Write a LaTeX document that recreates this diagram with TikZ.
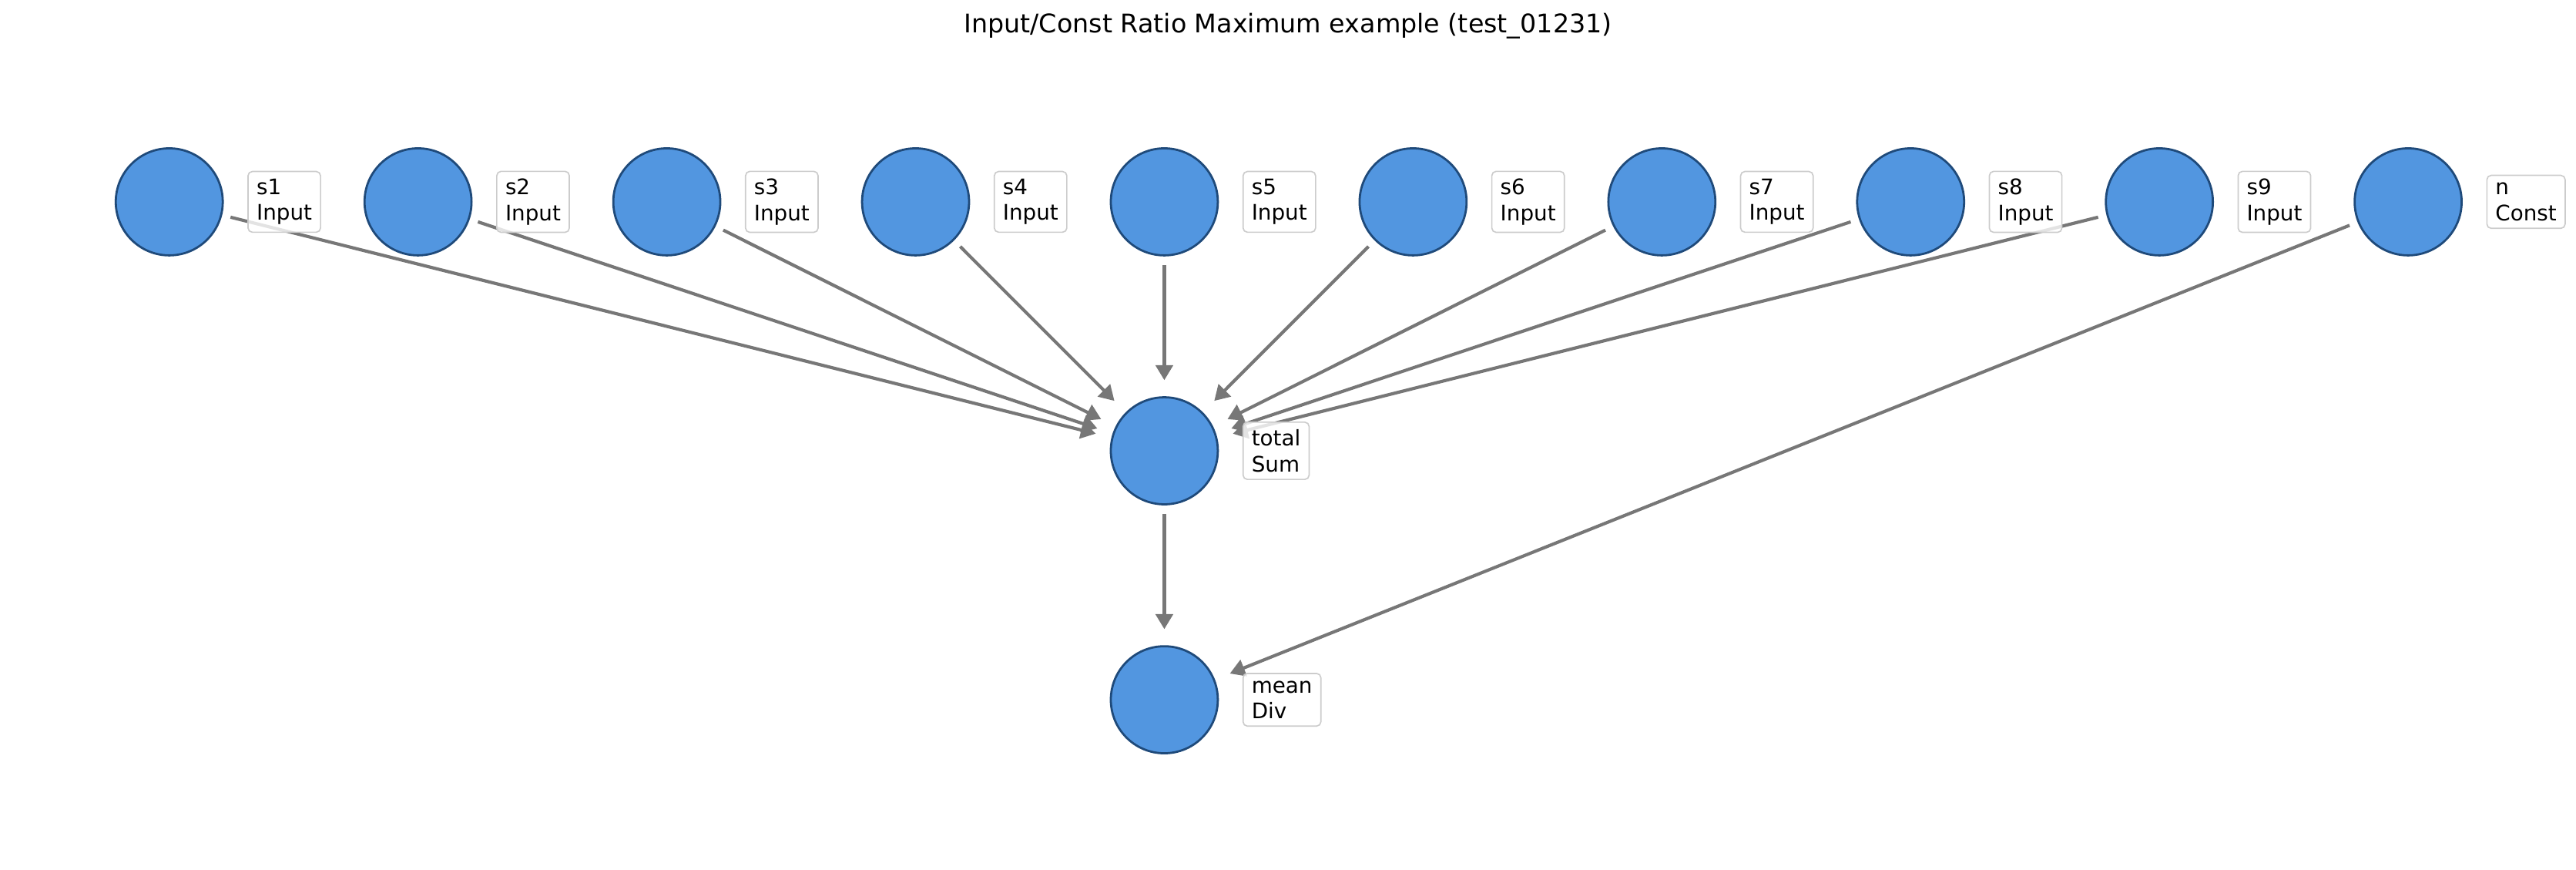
\documentclass[tikz,border=0pt]{standalone}
\usepackage{fontspec}
\setmainfont{DejaVu Sans}
\usetikzlibrary{arrows.meta, positioning}
\definecolor{nodeblue}{HTML}{5296E0}
\definecolor{nodeedge}{HTML}{1F4A7A}
\definecolor{edgegray}{HTML}{777777}
\definecolor{lblgray}{HTML}{CCCCCC}

\begin{document}
\begin{tikzpicture}[
    node distance=65.3pt and 65.25pt,
    op/.style={circle, draw=nodeedge, fill=nodeblue, line width=1pt, minimum size=50pt, inner sep=0pt},
    lbl/.style={draw=lblgray, fill=white, fill opacity=0.8, text opacity=1, rounded corners=2pt, align=left, inner xsep=4pt, inner ysep=3.5pt, line width=0.6pt, font=\fontsize{10}{12}\selectfont},
    flow/.style={draw=edgegray, line width=1.5pt, -{Triangle[length=7pt,width=8pt]}, shorten <=4pt, shorten >=7.5pt}
  ]
    \useasboundingbox (0,0) rectangle (1203.8pt,-406.1pt);
    \node[font=\fontsize{12}{14}\selectfont] (title) at (601.9pt,-12.2pt) {Input/Const Ratio Maximum example (test\_01231)};

    \node[op] (s1) at (79.1pt,-94.3pt) {};
    \node[op, right=of s1] (s2) {};
    \node[op, right=of s2] (s3) {};
    \node[op, right=of s3] (s4) {};
    \node[op, right=of s4] (s5) {};
    \node[op, right=of s5] (s6) {};
    \node[op, right=of s6] (s7) {};
    \node[op, right=of s7] (s8) {};
    \node[op, right=of s8] (s9) {};
    \node[op, right=of s9] (n) {};
    \node[op, below=of s5] (total) {};
    \node[op, below=of total] (mean) {};

    \draw[flow] (s1) -- (total);
    \draw[flow] (s2) -- (total);
    \draw[flow] (s3) -- (total);
    \draw[flow] (s4) -- (total);
    \draw[flow] (s5) -- (total);
    \draw[flow] (s6) -- (total);
    \draw[flow] (s7) -- (total);
    \draw[flow] (s8) -- (total);
    \draw[flow] (s9) -- (total);
    \draw[flow] (total) -- (mean);
    \draw[flow] (n) -- (mean);

    \node[lbl, right=11pt of s1] (s1lbl) {s1\\Input};
    \node[lbl, right=11pt of s2] (s2lbl) {s2\\Input};
    \node[lbl, right=11pt of s3] (s3lbl) {s3\\Input};
    \node[lbl, right=11pt of s4] (s4lbl) {s4\\Input};
    \node[lbl, right=11pt of s5] (s5lbl) {s5\\Input};
    \node[lbl, right=11pt of s6] (s6lbl) {s6\\Input};
    \node[lbl, right=11pt of s7] (s7lbl) {s7\\Input};
    \node[lbl, right=11pt of s8] (s8lbl) {s8\\Input};
    \node[lbl, right=11pt of s9] (s9lbl) {s9\\Input};
    \node[lbl, right=11pt of n] (nlbl) {n\\Const};
    \node[lbl, right=11pt of total] (totallbl) {total\\Sum};
    \node[lbl, right=11pt of mean] (meanlbl) {mean\\Div};
  \end{tikzpicture}
\end{document}
